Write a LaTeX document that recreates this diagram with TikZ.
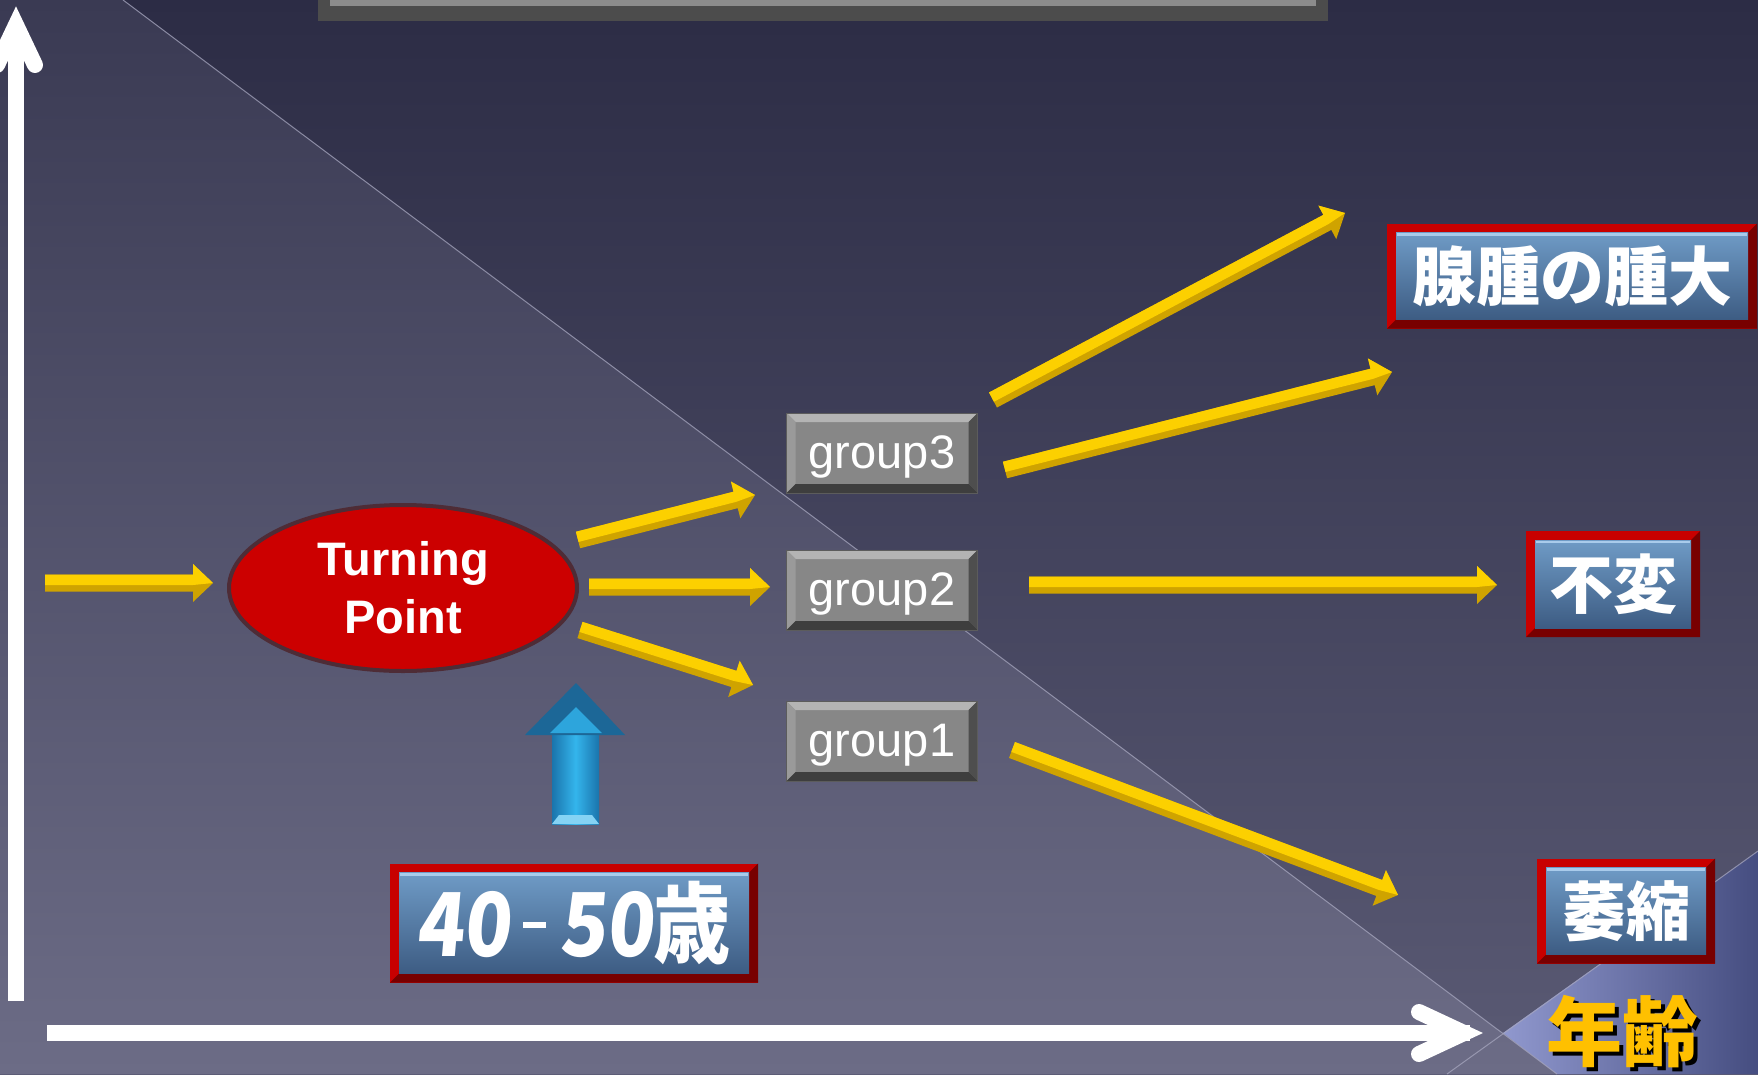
\documentclass[tikz,border=0pt]{standalone}
\usepackage{fontspec}
\setmainfont{Liberation Sans}
\newfontfamily\cjk{Noto Sans CJK JP}
\newfontfamily\cjkslant{Noto Sans CJK JP}[FakeSlant=0.1]
\usetikzlibrary{shapes.geometric,calc}

\definecolor{bgTop}{HTML}{2C2C45}
\definecolor{bgBot}{HTML}{5A5A74}
\definecolor{lowTop}{HTML}{3A3A53}
\definecolor{lowBot}{HTML}{6C6C86}
\definecolor{wedgeL}{HTML}{9098CE}
\definecolor{wedgeR}{HTML}{454D80}
\definecolor{seam}{HTML}{A6A6BE}
\definecolor{yMain}{HTML}{CFA300}
\definecolor{yLight}{HTML}{FCD000}
\definecolor{gFace}{HTML}{878787}
\definecolor{gTop}{HTML}{B4B4B4}
\definecolor{gLeft}{HTML}{9A9A9A}
\definecolor{gRight}{HTML}{4E4E4E}
\definecolor{gBot}{HTML}{3E3E3E}
\definecolor{gRim}{HTML}{5C5C5C}
\definecolor{frameRed}{HTML}{C80000}
\definecolor{frameDark}{HTML}{780000}
\definecolor{boxTop}{HTML}{6F9BC6}
\definecolor{boxBot}{HTML}{3D5C83}
\definecolor{boxHi}{HTML}{A9CBEB}
\definecolor{tpRed}{HTML}{CC0000}
\definecolor{tpEdge}{HTML}{4E2C36}
\definecolor{blueMid}{HTML}{34B5EC}
\definecolor{blueEdge}{HTML}{1A74AC}
\definecolor{blueHead}{HTML}{1C6797}
\definecolor{ageGold}{HTML}{FFC000}
\definecolor{panelRim}{HTML}{4C4C4C}
\definecolor{panelFace}{HTML}{8C8C8C}

% bevelled yellow arrow between two named points
\newcommand\goldarrow[2]{%
  \coordinate (ga-n) at ($(#2)!20pt!(#1)$);
  \fill[yMain] ($(#1)!8.5pt!90:(#2)$) -- ($(ga-n)!8.5pt!90:(#2)$) -- ($(ga-n)!19pt!90:(#2)$)
     -- (#2) -- ($(ga-n)!19pt!-90:(#2)$) -- ($(ga-n)!8.5pt!-90:(#2)$) -- ($(#1)!8.5pt!-90:(#2)$) -- cycle;
  \fill[yLight] ($(#1)!8.5pt!90:(#2)$) -- ($(ga-n)!8.5pt!90:(#2)$) -- ($(ga-n)!19pt!90:(#2)$)
     -- (#2) -- ($(ga-n)!2pt!-90:(#2)$) -- ($(#1)!2pt!-90:(#2)$) -- cycle;
}

\tikzset{
  gbox/.style={rectangle, fill=gFace, draw=gRim, line width=1pt, inner sep=0pt,
    minimum width=191pt, minimum height=80pt, text=white, text depth=2pt,
    font=\fontsize{47}{47}\selectfont,
    path picture={
      \fill[gTop] (path picture bounding box.north west) -- (path picture bounding box.north east)
        -- ([shift={(-9pt,-9pt)}]path picture bounding box.north east) -- ([shift={(9pt,-9pt)}]path picture bounding box.north west) -- cycle;
      \fill[gLeft] (path picture bounding box.north west) -- ([shift={(9pt,-9pt)}]path picture bounding box.north west)
        -- ([shift={(9pt,9pt)}]path picture bounding box.south west) -- (path picture bounding box.south west) -- cycle;
      \fill[gRight] (path picture bounding box.north east) -- ([shift={(-9pt,-9pt)}]path picture bounding box.north east)
        -- ([shift={(-9pt,9pt)}]path picture bounding box.south east) -- (path picture bounding box.south east) -- cycle;
      \fill[gBot] (path picture bounding box.south west) -- ([shift={(9pt,9pt)}]path picture bounding box.south west)
        -- ([shift={(-9pt,9pt)}]path picture bounding box.south east) -- (path picture bounding box.south east) -- cycle;
    }},
  redbox/.style={rectangle, fill=frameRed, inner sep=0pt, text=white,
    font=\cjk\bfseries\fontsize{64}{64}\selectfont,
    path picture={
      \fill[frameDark] ([shift={(-9pt,-9pt)}]path picture bounding box.north east) -- (path picture bounding box.north east)
        -- (path picture bounding box.south east) -- (path picture bounding box.south west)
        -- ([shift={(9pt,9pt)}]path picture bounding box.south west) -- ([shift={(-9pt,9pt)}]path picture bounding box.south east) -- cycle;
      \shade[top color=boxTop, bottom color=boxBot] ([shift={(9pt,-9pt)}]path picture bounding box.north west)
        rectangle ([shift={(-9pt,9pt)}]path picture bounding box.south east);
      \draw[boxHi, line width=2.5pt] ([shift={(10pt,-11pt)}]path picture bounding box.north west)
        -- ([shift={(-10pt,-11pt)}]path picture bounding box.north east);
    }},
  axisline/.style={white, line width=16pt},
  seamline/.style={seam, line width=1pt, opacity=0.75},
}

\begin{document}
\begin{tikzpicture}[x=1pt,y=-1pt]
\useasboundingbox (0,0) rectangle (1758,1074);

% backdrop: base gradient, lighter lower-left field, lavender wedge
\shade[top color=bgTop, bottom color=bgBot] (0,0) rectangle (1758,1074);
\shade[top color=lowTop, bottom color=lowBot] (0,0) -- (123,0) -- (1557,1074) -- (0,1074) -- cycle;
\shade[left color=wedgeL, right color=wedgeR] (1503,1033) -- (1758,851) -- (1758,1074) -- (1557,1074) -- cycle;
\draw[seamline] (123,0) -- (1557,1074);
\draw[seamline] (1447,1074) -- (1758,851);

% title panel cut by the top edge
\fill[panelRim] (318,-5) rectangle (1328,21);
\fill[panelFace] (330,-5) rectangle (1316,6);

% axes
\coordinate (yaxis-foot) at (16,1001);
\coordinate (yaxis-top) at (16,30);
\draw[axisline] (yaxis-foot) -- (yaxis-top);
\draw[axisline, line cap=round, line join=miter] (-3,65) -- (16,25) -- (35,65);
\coordinate (xaxis-start) at (47,1033);
\coordinate (xaxis-end) at (1470,1033);
\draw[axisline] (xaxis-start) -- (xaxis-end);
\draw[axisline, line cap=round, line join=miter] (1419,1012) -- (1464,1033) -- (1419,1054);

% nodes
\node[ellipse, minimum width=348pt, minimum height=166pt, fill=tpRed, draw=tpEdge, line width=4pt,
      text=white, align=center, font=\bfseries\fontsize{47}{58}\selectfont] (tp) at (403,588) {Turning\\Point};

\node[gbox] (g3) at (882,453) {group3};
\node[gbox] (g2) at (882,590) {group2};
\node[gbox] (g1) at (882,741) {group1};

\node[redbox, minimum width=370pt, minimum height=105pt] (enlarge) at (1572,276) {腺腫の腫大};
\node[redbox, minimum width=174pt, minimum height=106pt] (same) at (1613,584) {不変};
\node[redbox, minimum width=178pt, minimum height=105pt] (shrink) at (1626,911) {萎縮};
\node[redbox, minimum width=368pt, minimum height=119pt, font=\cjk\bfseries\fontsize{88}{88}\selectfont] (age) at (574,923)
  {\scalebox{0.88}[1]{{\cjkslant\bfseries 40}\hspace{13pt}\raisebox{28pt}{\rule{27pt}{6pt}}\hspace{15pt}{\cjkslant\bfseries 50}歳}};

% axis label with its drop shadow
\node[text=ageGold, font=\cjk\bfseries\fontsize{76}{76}\selectfont] (axislabel) at (1622,1034)
  {\makebox[0pt][l]{\kern4pt\raisebox{-4pt}{\color{black}年齢}}年齢};

% blue arrow pointing up at the turning point
\shade[left color=blueEdge, right color=blueEdge, middle color=blueMid] (552,824) rectangle (599,731);
\fill[blueHead] (525,735) -- (576,683) -- (625,735) -- cycle;
\fill[blueMid!75!blueEdge] (550,733) -- (576,707) -- (602,733) -- cycle;
\fill[blueMid!60!white] (552,824) -- (599,824) -- (592,815) -- (559,815) -- cycle;

% yellow connectors
\coordinate (in-s) at (45,583);   \coordinate (in-e) at (213,583);
\coordinate (t3-s) at (578,540);  \coordinate (t3-e) at (755,495);
\coordinate (t2-s) at (589,587);  \coordinate (t2-e) at (770,587);
\coordinate (t1-s) at (580,630);  \coordinate (t1-e) at (753,685);
\coordinate (u1-s) at (993,400);  \coordinate (u1-e) at (1345,213);
\coordinate (u2-s) at (1005,470); \coordinate (u2-e) at (1392,372);
\coordinate (m-s) at (1029,585);  \coordinate (m-e) at (1497,585);
\coordinate (d-s) at (1012,750);  \coordinate (d-e) at (1398,895);
\goldarrow{in-s}{in-e}
\goldarrow{t3-s}{t3-e}
\goldarrow{t2-s}{t2-e}
\goldarrow{t1-s}{t1-e}
\goldarrow{u1-s}{u1-e}
\goldarrow{u2-s}{u2-e}
\goldarrow{m-s}{m-e}
\goldarrow{d-s}{d-e}
\end{tikzpicture}
\end{document}
